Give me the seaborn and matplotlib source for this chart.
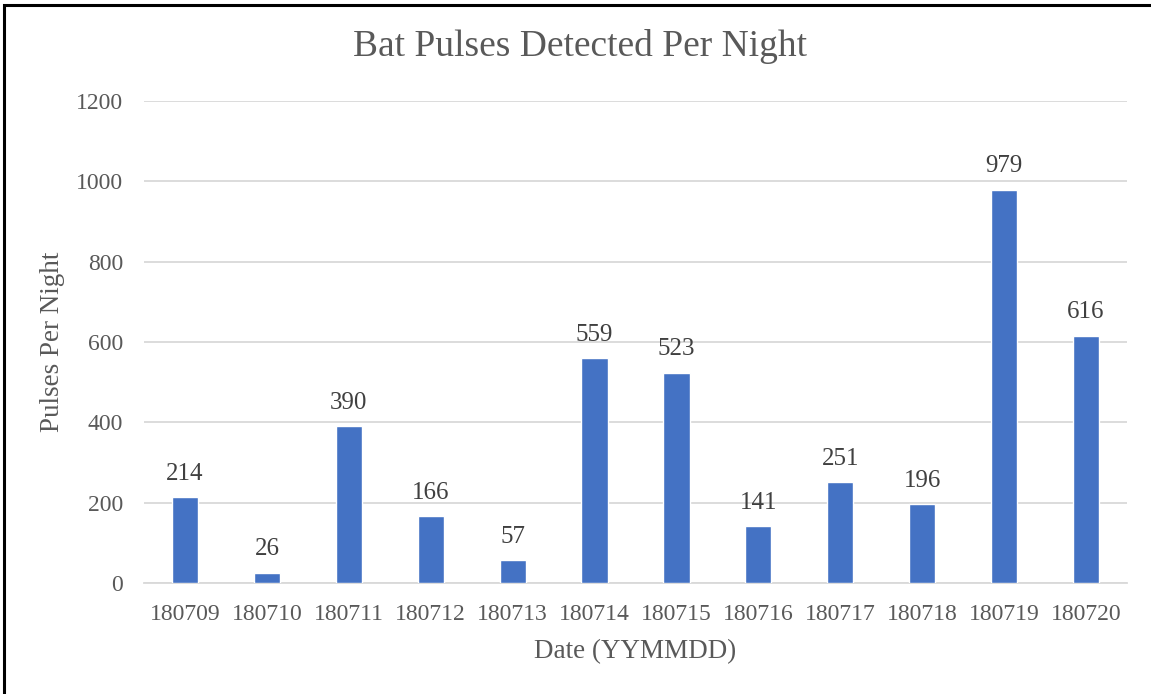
import matplotlib
matplotlib.use("Agg")
import matplotlib.pyplot as plt
import seaborn as sns
import pandas as pd
from matplotlib.patches import Rectangle

dates = ["180709", "180710", "180711", "180712", "180713", "180714",
         "180715", "180716", "180717", "180718", "180719", "180720"]
pulses = [214, 26, 390, 166, 57, 559, 523, 141, 251, 196, 979, 616]
yticks = [0, 200, 400, 600, 800, 1000, 1200]

sns.set_theme(style="white")
plt.rcParams['font.family'] = ['Liberation Serif', 'DejaVu Serif']

df = pd.DataFrame({"date": dates, "pulses": pulses})

fig = plt.figure(figsize=(11.51, 6.94), dpi=100)
ax = fig.add_axes([144/1151, 1-583/694, (1127-144)/1151, (583-101)/694])

sns.barplot(data=df, x="date", y="pulses", color="#4472C4", width=0.32,
            saturation=1, ax=ax, zorder=3)

ax.set_ylim(0, 1200)
ax.set_xlim(-0.5, len(dates)-0.5)
ax.set_yticks(yticks)
ax.set_yticklabels([str(t) for t in yticks])
ax.grid(axis="y", color="#D9D9D9", linewidth=1.3, zorder=0)
ax.grid(axis="x", visible=False)
for s in ["top", "right", "left"]:
    ax.spines[s].set_visible(False)
ax.spines["bottom"].set_color("#D9D9D9")
ax.spines["bottom"].set_linewidth(1.3)
ax.tick_params(axis="both", length=0, labelsize=17, labelcolor="#595959")
ax.tick_params(axis="x", pad=15)
ax.tick_params(axis="y", pad=15)

for i, v in enumerate(pulses):
    ax.annotate(str(v), (i, v), xytext=(0, 9), textcoords="offset points",
                ha="center", va="bottom", fontsize=18, color="#404040")

ax.set_xlabel("Date (YYMMDD)", fontsize=19.5, color="#595959", labelpad=10)
ax.set_ylabel("Pulses Per Night", fontsize=19.5, color="#595959", labelpad=8)
fig.text(580/1151, 1-47/694, "Bat Pulses Detected Per Night", ha="center",
         va="center", fontsize=27, color="#595959")

fig.patches.append(Rectangle((4/1151, -0.1), 1.2, 1.1 - 5/694, transform=fig.transFigure,
                             fill=False, edgecolor="black", linewidth=2.2))

fig.savefig("out.png", dpi=100)
